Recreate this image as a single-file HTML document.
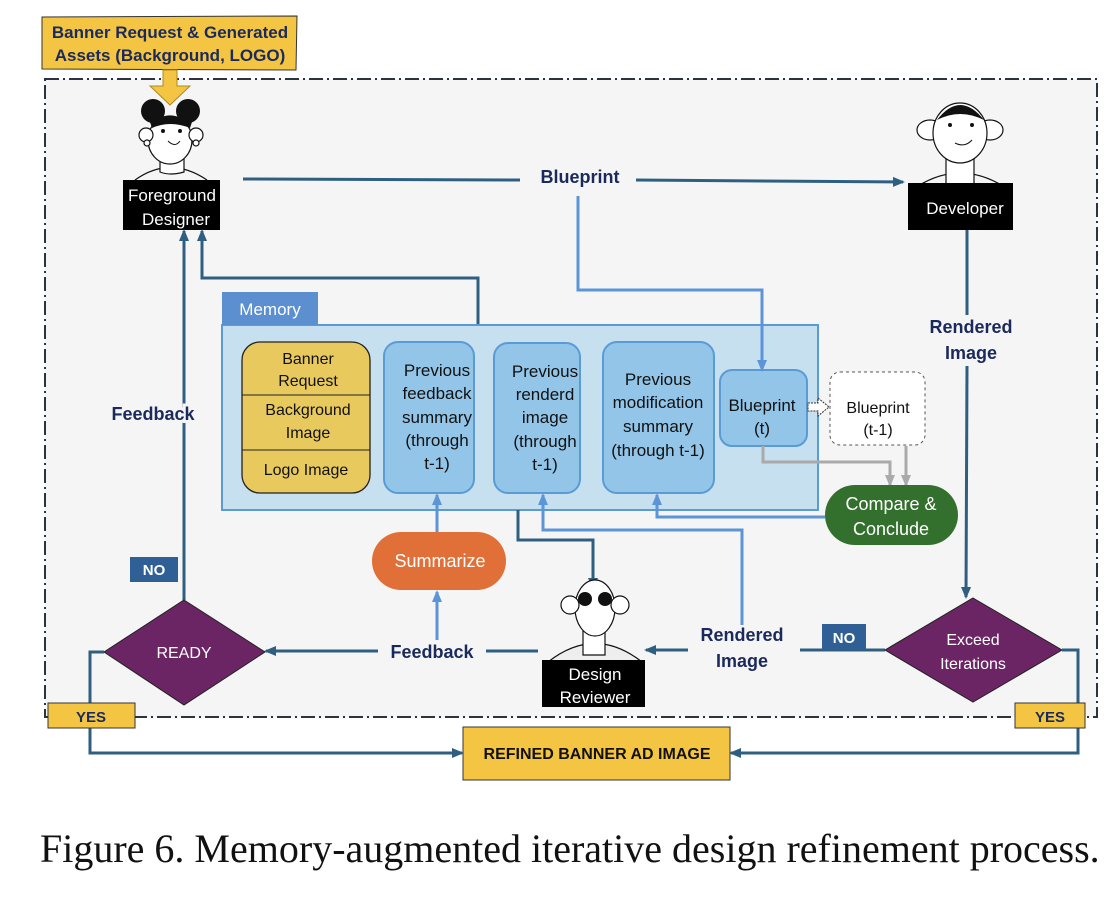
<!DOCTYPE html>
<html><head><meta charset="utf-8"><style>
body{margin:0;background:#fff;width:1116px;height:898px;overflow:hidden}
svg{display:block}
.n{font-family:"Liberation Sans",sans-serif;font-weight:bold;fill:#1b2a5c}
.t{font-family:"Liberation Sans",sans-serif;fill:#111}
.w{font-family:"Liberation Sans",sans-serif;fill:#fff}
</style></head><body>
<svg width="1116" height="898" viewBox="0 0 1116 898" xmlns="http://www.w3.org/2000/svg">
<defs>
<marker id="ad" markerWidth="12" markerHeight="12" refX="10" refY="6" orient="auto" markerUnits="userSpaceOnUse"><path d="M0,1 L12,6 L0,11 z" fill="#2e5f80"/></marker>
<marker id="ab" markerWidth="12" markerHeight="12" refX="10" refY="6" orient="auto" markerUnits="userSpaceOnUse"><path d="M0,1 L12,6 L0,11 z" fill="#5b95d8"/></marker>
<marker id="ag" markerWidth="12" markerHeight="12" refX="10" refY="6" orient="auto" markerUnits="userSpaceOnUse"><path d="M0,1 L12,6 L0,11 z" fill="#aaa"/></marker>
</defs>
<rect x="45" y="79" width="1052" height="638" fill="#f5f5f5" stroke="#2b3340" stroke-width="2" stroke-dasharray="14,4,2,4"/>
<path d="M42,17 L297,16 L296,70 L42,69 z" fill="#f4c542" stroke="#333" stroke-width="1"/>
<text class="n" x="170" y="38" font-size="17" text-anchor="middle">Banner Request &amp; Generated</text>
<text class="n" x="170" y="61" font-size="17" text-anchor="middle">Assets (Background, LOGO)</text>
<path d="M163,70 L177,70 L177,86 L190,86 L170,105 L150,86 L163,86 z" fill="#f4c542" stroke="#b08a20" stroke-width="1"/>
<g stroke="#111" stroke-width="1.2" fill="#fff">
<path d="M135,180 Q170,155 207,180" fill="none"/>
<path d="M160,155 L160,172 Q170,176 184,172 L184,155"/>
<ellipse cx="170" cy="140" rx="22" ry="24"/>
<circle cx="146" cy="135" r="7"/><circle cx="196" cy="135" r="7"/>
<circle cx="147" cy="143" r="3"/><circle cx="196" cy="143" r="3"/>
</g>
<circle cx="153" cy="111" r="12" fill="#111"/><circle cx="188" cy="111" r="12" fill="#111"/>
<path d="M150,122 Q170,110 192,122 L190,128 Q170,120 152,128 z" fill="#111"/>
<circle cx="163" cy="131" r="2" fill="#111"/><circle cx="180" cy="131" r="2" fill="#111"/>
<path d="M168,141 Q175,148 180,141" stroke="#111" fill="none"/>
<rect x="123" y="180" width="97" height="50" fill="#000"/>
<text class="w" x="172" y="201" font-size="17" text-anchor="middle">Foreground</text>
<text class="w" x="176" y="225" font-size="17" text-anchor="middle">Designer</text>
<g stroke="#111" stroke-width="1.2" fill="#fff">
<path d="M918,186 Q960,160 1003,186" fill="none"/>
<path d="M946,158 L946,185 L974,185 L974,158"/>
<ellipse cx="930" cy="130" rx="13" ry="10"/><ellipse cx="990" cy="130" rx="13" ry="10"/>
<ellipse cx="960" cy="133" rx="27" ry="30"/>
</g>
<path d="M937,120 Q960,90 984,120 Q960,108 937,120 z" fill="#111"/>
<circle cx="950" cy="125" r="2" fill="#111"/><circle cx="972" cy="125" r="2" fill="#111"/>
<path d="M955,143 Q965,148 972,140" stroke="#111" fill="none"/>
<rect x="908" y="183" width="105" height="47" fill="#000"/>
<text class="w" x="965" y="214" font-size="17" text-anchor="middle">Developer</text>
<line x1="243" y1="179" x2="520" y2="180" stroke="#2e5f80" stroke-width="3"/>
<text class="n" x="580" y="183" font-size="18" text-anchor="middle">Blueprint</text>
<line x1="636" y1="180" x2="903" y2="182" stroke="#2e5f80" stroke-width="3" marker-end="url(#ad)"/>
<line x1="967" y1="230" x2="967" y2="315" stroke="#2e5f80" stroke-width="3"/>
<text class="n" x="971" y="333" font-size="18" text-anchor="middle">Rendered</text>
<text class="n" x="971" y="359" font-size="18" text-anchor="middle">Image</text>
<line x1="967" y1="366" x2="966" y2="597" stroke="#2e5f80" stroke-width="3" marker-end="url(#ad)"/>
<polyline points="478,325 478,278 202,278 202,231" fill="none" stroke="#2e5f80" stroke-width="3" marker-end="url(#ad)"/>
<line x1="184" y1="600" x2="184" y2="231" stroke="#2e5f80" stroke-width="3" marker-end="url(#ad)"/>
<text class="n" x="153" y="420" font-size="18" text-anchor="middle" stroke="#f5f5f5" stroke-width="6" paint-order="stroke">Feedback</text>
<rect x="222" y="325" width="596" height="185" fill="#c6e0f0" stroke="#5b9bd5" stroke-width="2"/>
<rect x="222" y="292" width="96" height="33" fill="#5b8fd0"/>
<text class="w" x="270" y="315" font-size="17" text-anchor="middle">Memory</text>
<rect x="242" y="342" width="128" height="151" rx="18" fill="#e8c95e" stroke="#222" stroke-width="1.3"/>
<line x1="242" y1="395" x2="370" y2="395" stroke="#222"/>
<line x1="242" y1="450" x2="370" y2="450" stroke="#222"/>
<g class="t" font-size="16" text-anchor="middle">
<text x="308" y="364">Banner</text><text x="308" y="386">Request</text>
<text x="308" y="415">Background</text><text x="308" y="438">Image</text>
<text x="306" y="475">Logo  Image</text>
</g>
<g fill="#92c5e8" stroke="#5b9bd5" stroke-width="2">
<rect x="384" y="342" width="90" height="151" rx="14"/>
<rect x="494" y="343" width="86" height="150" rx="14"/>
<rect x="603" y="342" width="111" height="151" rx="14"/>
<rect x="720" y="370" width="87" height="76" rx="12"/>
</g>
<polyline points="578,196 578,290 762,290 762,370" fill="none" stroke="#5b95d8" stroke-width="3" marker-end="url(#ab)"/>
<g class="t" font-size="17" text-anchor="middle">
<text x="437" y="376">Previous</text><text x="437" y="399">feedback</text><text x="437" y="423">summary</text><text x="437" y="446">(through</text><text x="437" y="469">t-1)</text>
<text x="545" y="377">Previous</text><text x="545" y="400">renderd</text><text x="545" y="423">image</text><text x="545" y="447">(through</text><text x="545" y="470">t-1)</text>
<text x="658" y="385">Previous</text><text x="658" y="408">modification</text><text x="658" y="432">summary</text><text x="658" y="456">(through t-1)</text>
<text x="762" y="411">Blueprint</text><text x="762" y="434">(t)</text>
</g>
<rect x="830" y="372" width="95" height="73" rx="10" fill="#fff" stroke="#555" stroke-dasharray="3,3"/>
<text class="t" x="878" y="413" font-size="16" text-anchor="middle">Blueprint</text>
<text class="t" x="878" y="435" font-size="16" text-anchor="middle">(t-1)</text>
<path d="M808,403 L818,403 L818,398 L829,407 L818,416 L818,411 L808,411 z" fill="#fff" stroke="#333" stroke-dasharray="2,1"/>
<polyline points="763,446 763,462 890,462 890,485" fill="none" stroke="#aaa" stroke-width="3" marker-end="url(#ag)"/>
<line x1="906" y1="446" x2="906" y2="485" stroke="#aaa" stroke-width="3" marker-end="url(#ag)"/>
<rect x="825" y="485" width="133" height="60" rx="30" fill="#33702d"/>
<text class="w" x="891" y="510" font-size="18" text-anchor="middle">Compare &amp;</text>
<text class="w" x="891" y="535" font-size="18" text-anchor="middle">Conclude</text>
<polyline points="825,517 657,517 657,495" fill="none" stroke="#5b95d8" stroke-width="3" marker-end="url(#ab)"/>
<rect x="372" y="532" width="134" height="58" rx="29" fill="#e07038"/>
<text class="w" x="440" y="567" font-size="18" text-anchor="middle">Summarize</text>
<line x1="437" y1="532" x2="437" y2="495" stroke="#5b95d8" stroke-width="3" marker-end="url(#ab)"/>
<line x1="437" y1="640" x2="437" y2="592" stroke="#5b95d8" stroke-width="3" marker-end="url(#ab)"/>
<polyline points="518,510 518,540 593,540 593,588" fill="none" stroke="#2e5f80" stroke-width="3" marker-end="url(#ad)"/>
<polyline points="742,625 742,530 543,530 543,495" fill="none" stroke="#5b95d8" stroke-width="3" marker-end="url(#ab)"/>
<g stroke="#111" stroke-width="1.2" fill="#fff">
<path d="M548,662 Q595,625 642,662 z" fill="#eee"/>
<path d="M583,620 L583,655 L605,655 L605,620"/>
<ellipse cx="595" cy="608" rx="20" ry="28"/>
<ellipse cx="570" cy="605" rx="9" ry="9"/><ellipse cx="620" cy="605" rx="9" ry="9"/>
</g>
<circle cx="585" cy="599" r="7" fill="#111"/><circle cx="605" cy="599" r="7" fill="#111"/>
<rect x="542" y="660" width="103" height="47" fill="#000"/>
<text class="w" x="595" y="680" font-size="17" text-anchor="middle">Design</text>
<text class="w" x="595" y="703" font-size="17" text-anchor="middle">Reviewer</text>
<line x1="538" y1="651" x2="486" y2="651" stroke="#2e5f80" stroke-width="3"/>
<text class="n" x="432" y="658" font-size="18" text-anchor="middle">Feedback</text>
<line x1="378" y1="651" x2="266" y2="651" stroke="#2e5f80" stroke-width="3" marker-end="url(#ad)"/>
<line x1="885" y1="650" x2="800" y2="650" stroke="#2e5f80" stroke-width="3"/>
<text class="n" x="742" y="641" font-size="18" text-anchor="middle">Rendered</text>
<text class="n" x="742" y="667" font-size="18" text-anchor="middle">Image</text>
<line x1="688" y1="650" x2="646" y2="650" stroke="#2e5f80" stroke-width="3" marker-end="url(#ad)"/>
<rect x="822" y="624" width="44" height="26" fill="#2f5f95"/>
<text class="w" x="844" y="643" font-size="15" font-weight="bold" text-anchor="middle">NO</text>
<path d="M973,598 L1062,650 L973,702 L885,650 z" fill="#6b2565" stroke="#222"/>
<text class="w" x="973" y="645" font-size="16" text-anchor="middle">Exceed</text>
<text class="w" x="973" y="669" font-size="16" text-anchor="middle">Iterations</text>
<path d="M184,600 L265,652 L184,705 L104,652 z" fill="#6b2565" stroke="#222"/>
<text class="w" x="184" y="658" font-size="16" text-anchor="middle">READY</text>
<rect x="130" y="557" width="48" height="25" fill="#2f5f95"/>
<text class="w" x="154" y="575" font-size="15" font-weight="bold" text-anchor="middle">NO</text>
<polyline points="104,652 90,652 90,753 462,753" fill="none" stroke="#2e5f80" stroke-width="3" marker-end="url(#ad)"/>
<polyline points="1062,650 1078,650 1078,753 731,753" fill="none" stroke="#2e5f80" stroke-width="3" marker-end="url(#ad)"/>
<rect x="48" y="703" width="87" height="25" fill="#f4c542" stroke="#333"/>
<text class="n" x="91" y="722" font-size="15" text-anchor="middle">YES</text>
<rect x="1015" y="703" width="70" height="25" fill="#f4c542" stroke="#333"/>
<text class="n" x="1050" y="722" font-size="15" text-anchor="middle">YES</text>
<rect x="463" y="727" width="267" height="53" fill="#f4c542" stroke="#333"/>
<text x="597" y="759" font-size="16" font-weight="bold" text-anchor="middle" font-family="Liberation Sans,sans-serif" fill="#111">REFINED BANNER AD IMAGE</text>
<text x="40" y="862" font-size="40" font-family="Liberation Serif,serif" fill="#111">Figure 6. Memory-augmented iterative design refinement process.</text>
</svg>
</body></html>
